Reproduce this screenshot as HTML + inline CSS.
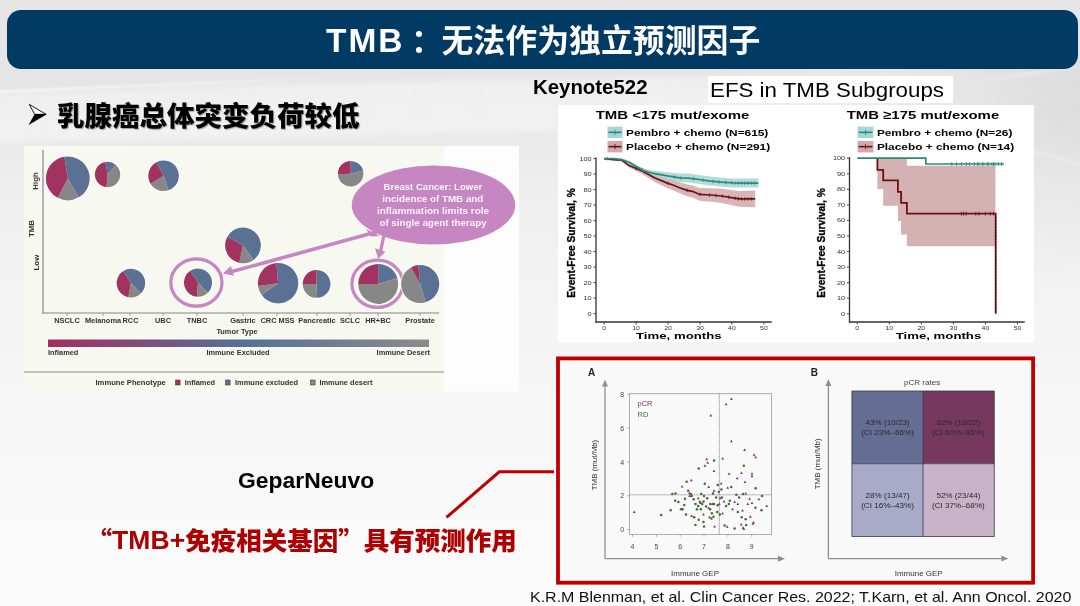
<!DOCTYPE html>
<html><head><meta charset="utf-8"><style>
*{margin:0;padding:0;box-sizing:border-box}
html,body{width:1080px;height:606px;overflow:hidden}
body{position:relative;font-family:"Liberation Sans","Noto Sans CJK SC",sans-serif;
background:linear-gradient(180deg,#e6e6e6 0px,#e5e5e5 80px,#e9e9e9 130px,#eeeeee 190px,#f2f2f2 270px,#f5f5f5 370px,#f8f8f8 470px,#fbfbfb 606px)}
.abs{position:absolute;white-space:nowrap}
#hdr{left:7px;top:10px;width:1071px;height:59px;border-radius:14px;background:#013a63}
#title{left:326px;top:11px;height:59px;line-height:59px;color:#fff;font-weight:bold;font-size:31.9px;font-family:"Liberation Sans","Noto Sans CJK SC",sans-serif}
#bullet{left:57px;top:93.5px;font-size:27.5px;font-weight:900;color:#000;font-family:"Liberation Sans","Noto Sans CJK SC",sans-serif;text-shadow:1px 1px 1px rgba(0,0,0,.35)}
#kn{left:533px;top:75.5px;font-size:20.4px;font-weight:bold;color:#000}
#efs{left:708px;top:76px;width:245px;height:26.5px;background:#fff}
#efst{left:710px;top:79.3px;font-size:20.3px;color:#000;transform:scaleX(1.1);transform-origin:0 0}
#gep{left:237.5px;top:468.3px;font-size:21.6px;transform:scaleX(1.06);transform-origin:0 0;font-weight:bold;color:#000}
#red{left:86.5px;top:519.8px;font-size:25.5px;font-weight:900;color:#ae0000;font-family:"Liberation Sans","Noto Sans CJK SC",sans-serif}
#cite{left:529.5px;top:589.2px;font-size:14.4px;color:#111;transform:scaleX(1.11);transform-origin:0 0}
.cq{font-family:"Noto Sans CJK SC",sans-serif}
svg text{font-family:"Liberation Sans",sans-serif}
</style></head><body>

<svg class="abs" style="left:0;top:0" width="1080" height="606" viewBox="0 0 1080 606">
<defs><filter id="bl" x="-10%" y="-60%" width="120%" height="220%"><feGaussianBlur stdDeviation="3"/></filter><filter id="bl2" x="-10%" y="-200%" width="120%" height="500%"><feGaussianBlur stdDeviation="0.9"/></filter><linearGradient id="hl" x1="0" x2="1" y1="0" y2="0"><stop offset="0" stop-color="#fff" stop-opacity="0.9"/><stop offset="0.6" stop-color="#fff" stop-opacity="0.5"/><stop offset="1" stop-color="#fff" stop-opacity="0"/></linearGradient><linearGradient id="hl2" x1="0" x2="1" y1="0" y2="0"><stop offset="0" stop-color="#fff" stop-opacity="0"/><stop offset="0.5" stop-color="#fff" stop-opacity="0.6"/><stop offset="1" stop-color="#fff" stop-opacity="0.3"/></linearGradient></defs>
<defs><linearGradient id="lens" x1="0" x2="1" y1="0" y2="0"><stop offset="0" stop-color="#fff" stop-opacity="0.35"/><stop offset="0.6" stop-color="#fff" stop-opacity="0.4"/><stop offset="0.85" stop-color="#fff" stop-opacity="0.15"/><stop offset="1" stop-color="#fff" stop-opacity="0"/></linearGradient></defs>
<path d="M-40,96 C200,86 400,81 560,79 C760,77 900,73 1120,66 L1120,100 C900,112 760,126 540,131 C350,136 150,140 -40,142 Z" fill="url(#lens)" filter="url(#bl)"/>
<path d="M-5,92 C80,88 200,82 360,76" fill="none" stroke="url(#hl)" stroke-width="1.6" filter="url(#bl2)"/>
<path d="M960,84 C1000,78 1040,72 1085,66" fill="none" stroke="url(#hl2)" stroke-width="3" filter="url(#bl2)" opacity="0.6"/>
<path d="M1030,150 C1045,154 1062,159 1085,166" fill="none" stroke="#fff" stroke-width="1.5" filter="url(#bl2)" opacity="0.6"/>
<defs><radialGradient id="rg" cx="1080" cy="110" r="190" gradientUnits="userSpaceOnUse"><stop offset="0" stop-color="#000" stop-opacity="0.045"/><stop offset="1" stop-color="#000" stop-opacity="0"/></radialGradient></defs>
<rect x="880" y="60" width="200" height="260" fill="url(#rg)"/>
<path d="M29.3,104.4 L46,114.3 L34.9,114.6 Z" fill="#fff" stroke="#000" stroke-width="0.9" stroke-linejoin="miter"/><path d="M34.9,114.3 L46.2,114.3 L29.3,124.3 Z" fill="#000" stroke="#000" stroke-width="0.6"/>
<rect x="24" y="146" width="420" height="245.5" fill="#f7f8f0"/>
<rect x="444" y="146" width="75" height="245.5" fill="#fdfdfd"/>
<line x1="43" y1="150" x2="43" y2="313.5" stroke="#888" stroke-width="1.2"/>
<line x1="42.4" y1="313" x2="439" y2="313" stroke="#888" stroke-width="1.2"/>
<line x1="67" y1="313" x2="67" y2="316" stroke="#888" stroke-width="0.8"/>
<line x1="103" y1="313" x2="103" y2="316" stroke="#888" stroke-width="0.8"/>
<line x1="130" y1="313" x2="130" y2="316" stroke="#888" stroke-width="0.8"/>
<line x1="163" y1="313" x2="163" y2="316" stroke="#888" stroke-width="0.8"/>
<line x1="197" y1="313" x2="197" y2="316" stroke="#888" stroke-width="0.8"/>
<line x1="243" y1="313" x2="243" y2="316" stroke="#888" stroke-width="0.8"/>
<line x1="277" y1="313" x2="277" y2="316" stroke="#888" stroke-width="0.8"/>
<line x1="317" y1="313" x2="317" y2="316" stroke="#888" stroke-width="0.8"/>
<line x1="350" y1="313" x2="350" y2="316" stroke="#888" stroke-width="0.8"/>
<line x1="378" y1="313" x2="378" y2="316" stroke="#888" stroke-width="0.8"/>
<line x1="420" y1="313" x2="420" y2="316" stroke="#888" stroke-width="0.8"/>
<text transform="translate(38.4,181) rotate(-90)" font-size="7.8" font-weight="bold" fill="#333" text-anchor="middle">High</text>
<text transform="translate(34,228.5) rotate(-90)" font-size="7.8" font-weight="bold" fill="#333" text-anchor="middle">TMB</text>
<text transform="translate(38.9,262.6) rotate(-90)" font-size="7.8" font-weight="bold" fill="#333" text-anchor="middle">Low</text>
<text x="67" y="323.3" font-size="7.4" font-weight="bold" fill="#333" text-anchor="middle">NSCLC</text>
<text x="103" y="323.3" font-size="7.4" font-weight="bold" fill="#333" text-anchor="middle">Melanoma</text>
<text x="130.5" y="323.3" font-size="7.4" font-weight="bold" fill="#333" text-anchor="middle">RCC</text>
<text x="163" y="323.3" font-size="7.4" font-weight="bold" fill="#333" text-anchor="middle">UBC</text>
<text x="197" y="323.3" font-size="7.4" font-weight="bold" fill="#333" text-anchor="middle">TNBC</text>
<text x="243" y="323.3" font-size="7.4" font-weight="bold" fill="#333" text-anchor="middle">Gastric</text>
<text x="277.5" y="323.3" font-size="7.4" font-weight="bold" fill="#333" text-anchor="middle">CRC MSS</text>
<text x="317" y="323.3" font-size="7.4" font-weight="bold" fill="#333" text-anchor="middle">Pancreatic</text>
<text x="350" y="323.3" font-size="7.4" font-weight="bold" fill="#333" text-anchor="middle">SCLC</text>
<text x="378" y="323.3" font-size="7.4" font-weight="bold" fill="#333" text-anchor="middle">HR+BC</text>
<text x="420" y="323.3" font-size="7.4" font-weight="bold" fill="#333" text-anchor="middle">Prostate</text>
<text x="237" y="334.2" font-size="7.4" font-weight="bold" fill="#333" text-anchor="middle">Tumor Type</text>
<defs><linearGradient id="gb" x1="0" x2="1" y1="0" y2="0"><stop offset="0" stop-color="#a52d5e"/><stop offset="0.5" stop-color="#566f97"/><stop offset="1" stop-color="#8b8b8b"/></linearGradient></defs>
<rect x="48" y="339.5" width="381" height="7.5" fill="url(#gb)"/>
<text x="48" y="355" font-size="7.4" font-weight="bold" fill="#333">Inflamed</text>
<text x="238" y="355" font-size="7.4" font-weight="bold" fill="#333" text-anchor="middle">Immune Excluded</text>
<text x="430" y="355" font-size="7.4" font-weight="bold" fill="#333" text-anchor="end">Immune Desert</text>
<line x1="24" y1="372" x2="444" y2="372" stroke="#8a8a8a" stroke-width="1"/>
<text x="95.5" y="385.2" font-size="7.4" font-weight="bold" fill="#333" textLength="70.3" lengthAdjust="spacingAndGlyphs">Immune Phenotype</text>
<rect x="175.5" y="380" width="4.6" height="5" fill="#a2325f" stroke="#333" stroke-width="0.5"/>
<text x="184.7" y="385.2" font-size="7.4" font-weight="bold" fill="#333" textLength="30.3" lengthAdjust="spacingAndGlyphs">Inflamed</text>
<rect x="225.5" y="380" width="4.6" height="5" fill="#5b7193" stroke="#333" stroke-width="0.5"/>
<text x="235" y="385.2" font-size="7.4" font-weight="bold" fill="#333" textLength="63" lengthAdjust="spacingAndGlyphs">Immune excluded</text>
<rect x="310.5" y="380" width="4.6" height="5" fill="#878787" stroke="#333" stroke-width="0.5"/>
<text x="319.4" y="385.2" font-size="7.4" font-weight="bold" fill="#333" textLength="53.1" lengthAdjust="spacingAndGlyphs">Immune desert</text>
<circle cx="67.8" cy="178.3" r="22.9" fill="#fff" opacity="0.75"/><path d="M67.8,178.3L64.37,156.67A21.9,21.9 0 0 1 78.75,197.27Z" fill="#5b7193"/><path d="M67.8,178.3L78.75,197.27A21.9,21.9 0 0 1 57.86,197.81Z" fill="#878787"/><path d="M67.8,178.3L57.86,197.81A21.9,21.9 0 0 1 64.37,156.67Z" fill="#a2325f"/>
<circle cx="107.6" cy="174.5" r="13.7" fill="#fff" opacity="0.75"/><path d="M107.6,174.5L105.39,161.99A12.7,12.7 0 0 1 115.93,164.92Z" fill="#5b7193"/><path d="M107.6,174.5L115.93,164.92A12.7,12.7 0 0 1 106.49,187.15Z" fill="#878787"/><path d="M107.6,174.5L106.49,187.15A12.7,12.7 0 0 1 105.39,161.99Z" fill="#a2325f"/>
<circle cx="163.6" cy="175.8" r="16.3" fill="#fff" opacity="0.75"/><path d="M163.6,175.8L156.32,162.34A15.3,15.3 0 1 1 168.48,190.30Z" fill="#5b7193"/><path d="M163.6,175.8L168.48,190.30A15.3,15.3 0 0 1 150.49,183.68Z" fill="#878787"/><path d="M163.6,175.8L150.49,183.68A15.3,15.3 0 0 1 156.32,162.34Z" fill="#a2325f"/>
<circle cx="243" cy="245.4" r="18.9" fill="#fff" opacity="0.75"/><path d="M243.0,245.4L227.31,236.78A17.9,17.9 0 1 1 253.52,259.88Z" fill="#5b7193"/><path d="M243.0,245.4L253.52,259.88A17.9,17.9 0 0 1 239.28,262.91Z" fill="#878787"/><path d="M243.0,245.4L239.28,262.91A17.9,17.9 0 0 1 227.31,236.78Z" fill="#a2325f"/>
<circle cx="130.9" cy="283.1" r="15.3" fill="#fff" opacity="0.75"/><path d="M130.9,283.1L123.26,271.01A14.3,14.3 0 0 1 140.83,293.39Z" fill="#5b7193"/><path d="M130.9,283.1L140.83,293.39A14.3,14.3 0 0 1 128.32,297.17Z" fill="#878787"/><path d="M130.9,283.1L128.32,297.17A14.3,14.3 0 0 1 123.26,271.01Z" fill="#a2325f"/>
<circle cx="198" cy="282.6" r="15.1" fill="#fff" opacity="0.75"/><path d="M198.0,282.6L190.26,270.82A14.1,14.1 0 0 1 207.79,292.74Z" fill="#5b7193"/><path d="M198.0,282.6L207.79,292.74A14.1,14.1 0 0 1 196.89,296.66Z" fill="#878787"/><path d="M198.0,282.6L196.89,296.66A14.1,14.1 0 0 1 190.26,270.82Z" fill="#a2325f"/>
<circle cx="350.7" cy="173.7" r="13.8" fill="#fff" opacity="0.75"/><path d="M350.7,173.7L350.70,160.90A12.8,12.8 0 0 1 363.10,170.54Z" fill="#5b7193"/><path d="M350.7,173.7L363.10,170.54A12.8,12.8 0 1 1 337.91,174.24Z" fill="#878787"/><path d="M350.7,173.7L337.91,174.24A12.8,12.8 0 0 1 350.70,160.90Z" fill="#a2325f"/>
<circle cx="278.1" cy="283.2" r="21.2" fill="#fff" opacity="0.75"/><path d="M278.1,283.2L276.48,263.07A20.2,20.2 0 1 1 261.59,294.84Z" fill="#5b7193"/><path d="M278.1,283.2L261.59,294.84A20.2,20.2 0 0 1 258.08,285.91Z" fill="#878787"/><path d="M278.1,283.2L258.08,285.91A20.2,20.2 0 0 1 276.48,263.07Z" fill="#a2325f"/>
<circle cx="316.6" cy="283.9" r="14.9" fill="#fff" opacity="0.75"/><path d="M316.6,283.9L316.60,270.00A13.9,13.9 0 0 1 317.09,297.79Z" fill="#5b7193"/><path d="M316.6,283.9L317.09,297.79A13.9,13.9 0 0 1 302.70,283.90Z" fill="#878787"/><path d="M316.6,283.9L302.70,283.90A13.9,13.9 0 0 1 316.60,270.00Z" fill="#a2325f"/>
<circle cx="378.2" cy="283.9" r="21" fill="#fff" opacity="0.75"/><path d="M378.2,283.9L378.20,263.90A20,20 0 0 1 397.30,277.95Z" fill="#5b7193"/><path d="M378.2,283.9L397.30,277.95A20,20 0 1 1 358.20,283.90Z" fill="#878787"/><path d="M378.2,283.9L358.20,283.90A20,20 0 0 1 378.20,263.90Z" fill="#a2325f"/>
<ellipse cx="196.4" cy="282.5" rx="25.6" ry="23.7" fill="none" stroke="#c686c2" stroke-width="3.2"/>
<ellipse cx="377.4" cy="283.8" rx="25.5" ry="23.6" fill="none" stroke="#c686c2" stroke-width="3.2"/>
<circle cx="420.2" cy="284" r="20" fill="#fff" opacity="0.75"/><path d="M420.2,284.0L418.21,265.10A19,19 0 0 1 425.66,302.20Z" fill="#5b7193"/><path d="M420.2,284.0L425.66,302.20A19,19 0 0 1 410.99,267.38Z" fill="#878787"/><path d="M420.2,284.0L410.99,267.38A19,19 0 0 1 418.21,265.10Z" fill="#a2325f"/>
<path d="M378,231.5 L232,271.6" stroke="#c686c2" stroke-width="3.6"/><path d="M366,229 L380,236 L371,236.5 Z" fill="#c686c2"/>
<path d="M222.9,273.4 L230.8,266 L234,275.8 Z" fill="#c686c2"/>
<line x1="383.8" y1="236" x2="380.6" y2="251" stroke="#c686c2" stroke-width="3.3"/>
<path d="M378.2,258.8 L375,248.3 L385.5,251.8 Z" fill="#c686c2"/>
<ellipse cx="433.5" cy="205" rx="81.8" ry="39.5" fill="#c686c2"/>
<text x="383.6" y="189.7" font-size="9.3" font-weight="bold" fill="#fbf3fa" textLength="98.6" lengthAdjust="spacingAndGlyphs">Breast Cancer: Lower</text>
<text x="382.2" y="201.9" font-size="9.3" font-weight="bold" fill="#fbf3fa" textLength="101.1" lengthAdjust="spacingAndGlyphs">incidence of TMB and</text>
<text x="376.9" y="214.2" font-size="9.3" font-weight="bold" fill="#fbf3fa" textLength="112.3" lengthAdjust="spacingAndGlyphs">inflammation limits role</text>
<text x="379.4" y="226.3" font-size="9.3" font-weight="bold" fill="#fbf3fa" textLength="107.3" lengthAdjust="spacingAndGlyphs">of single agent therapy</text>
<rect x="558" y="105" width="476" height="237" fill="#ffffff"/>
<line x1="596" y1="157.60000000000002" x2="596" y2="322.6" stroke="#333" stroke-width="1.3"/>
<line x1="595.4" y1="322" x2="771.7" y2="322" stroke="#333" stroke-width="1.3"/>
<line x1="593.5" y1="313.6" x2="596" y2="313.6" stroke="#333" stroke-width="0.9"/>
<text x="591.7" y="315.6" font-size="5.7" font-weight="normal" fill="#333" text-anchor="end" textLength="4.1" lengthAdjust="spacingAndGlyphs">0</text>
<line x1="593.5" y1="298.1" x2="596" y2="298.1" stroke="#333" stroke-width="0.9"/>
<text x="591.7" y="300.1" font-size="5.7" font-weight="normal" fill="#333" text-anchor="end" textLength="8.2" lengthAdjust="spacingAndGlyphs">10</text>
<line x1="593.5" y1="282.6" x2="596" y2="282.6" stroke="#333" stroke-width="0.9"/>
<text x="591.7" y="284.6" font-size="5.7" font-weight="normal" fill="#333" text-anchor="end" textLength="8.2" lengthAdjust="spacingAndGlyphs">20</text>
<line x1="593.5" y1="267.1" x2="596" y2="267.1" stroke="#333" stroke-width="0.9"/>
<text x="591.7" y="269.1" font-size="5.7" font-weight="normal" fill="#333" text-anchor="end" textLength="8.2" lengthAdjust="spacingAndGlyphs">30</text>
<line x1="593.5" y1="251.6" x2="596" y2="251.6" stroke="#333" stroke-width="0.9"/>
<text x="591.7" y="253.6" font-size="5.7" font-weight="normal" fill="#333" text-anchor="end" textLength="8.2" lengthAdjust="spacingAndGlyphs">40</text>
<line x1="593.5" y1="236.1" x2="596" y2="236.1" stroke="#333" stroke-width="0.9"/>
<text x="591.7" y="238.1" font-size="5.7" font-weight="normal" fill="#333" text-anchor="end" textLength="8.2" lengthAdjust="spacingAndGlyphs">50</text>
<line x1="593.5" y1="220.6" x2="596" y2="220.6" stroke="#333" stroke-width="0.9"/>
<text x="591.7" y="222.6" font-size="5.7" font-weight="normal" fill="#333" text-anchor="end" textLength="8.2" lengthAdjust="spacingAndGlyphs">60</text>
<line x1="593.5" y1="205.1" x2="596" y2="205.1" stroke="#333" stroke-width="0.9"/>
<text x="591.7" y="207.1" font-size="5.7" font-weight="normal" fill="#333" text-anchor="end" textLength="8.2" lengthAdjust="spacingAndGlyphs">70</text>
<line x1="593.5" y1="189.6" x2="596" y2="189.6" stroke="#333" stroke-width="0.9"/>
<text x="591.7" y="191.6" font-size="5.7" font-weight="normal" fill="#333" text-anchor="end" textLength="8.2" lengthAdjust="spacingAndGlyphs">80</text>
<line x1="593.5" y1="174.1" x2="596" y2="174.1" stroke="#333" stroke-width="0.9"/>
<text x="591.7" y="176.1" font-size="5.7" font-weight="normal" fill="#333" text-anchor="end" textLength="8.2" lengthAdjust="spacingAndGlyphs">90</text>
<line x1="593.5" y1="158.6" x2="596" y2="158.6" stroke="#333" stroke-width="0.9"/>
<text x="591.7" y="160.6" font-size="5.7" font-weight="normal" fill="#333" text-anchor="end" textLength="12.2" lengthAdjust="spacingAndGlyphs">100</text>
<line x1="604.2" y1="322" x2="604.2" y2="324.5" stroke="#333" stroke-width="0.9"/>
<text x="604.2" y="329.7" font-size="5.7" font-weight="normal" fill="#333" text-anchor="middle" textLength="3.8" lengthAdjust="spacingAndGlyphs">0</text>
<line x1="636.1" y1="322" x2="636.1" y2="324.5" stroke="#333" stroke-width="0.9"/>
<text x="636.1" y="329.7" font-size="5.7" font-weight="normal" fill="#333" text-anchor="middle" textLength="7.6" lengthAdjust="spacingAndGlyphs">10</text>
<line x1="668.1" y1="322" x2="668.1" y2="324.5" stroke="#333" stroke-width="0.9"/>
<text x="668.1" y="329.7" font-size="5.7" font-weight="normal" fill="#333" text-anchor="middle" textLength="7.6" lengthAdjust="spacingAndGlyphs">20</text>
<line x1="700.0" y1="322" x2="700.0" y2="324.5" stroke="#333" stroke-width="0.9"/>
<text x="700.0" y="329.7" font-size="5.7" font-weight="normal" fill="#333" text-anchor="middle" textLength="7.6" lengthAdjust="spacingAndGlyphs">30</text>
<line x1="731.9" y1="322" x2="731.9" y2="324.5" stroke="#333" stroke-width="0.9"/>
<text x="731.9" y="329.7" font-size="5.7" font-weight="normal" fill="#333" text-anchor="middle" textLength="7.6" lengthAdjust="spacingAndGlyphs">40</text>
<line x1="763.9" y1="322" x2="763.9" y2="324.5" stroke="#333" stroke-width="0.9"/>
<text x="763.9" y="329.7" font-size="5.7" font-weight="normal" fill="#333" text-anchor="middle" textLength="7.6" lengthAdjust="spacingAndGlyphs">50</text>
<text x="678.8" y="339" font-size="9.2" font-weight="bold" fill="#000" text-anchor="middle" textLength="85.5" lengthAdjust="spacingAndGlyphs">Time, months</text>
<text stroke="#000" stroke-width="0.35" transform="translate(574.8,243) rotate(-90)" font-size="11" font-weight="bold" fill="#000" text-anchor="middle" textLength="109.5" lengthAdjust="spacingAndGlyphs">Event-Free Survival, %</text>
<text x="595.7" y="118.6" font-size="11.8" font-weight="bold" fill="#000" text-anchor="start" textLength="153.69999999999993" lengthAdjust="spacingAndGlyphs">TMB &lt;175 mut/exome</text>
<rect x="607.5" y="126.6" width="15.0" height="11.5" fill="#a6d6d2"/>
<line x1="608.5" y1="132.35" x2="621.5" y2="132.35" stroke="#2b8a7b" stroke-width="1.6"/>
<line x1="615.0" y1="129.85" x2="615.0" y2="134.85" stroke="#2b8a7b" stroke-width="0.9"/>
<text x="626.0" y="136.1" font-size="8.6" font-weight="bold" fill="#000" text-anchor="start" textLength="142.29999999999995" lengthAdjust="spacingAndGlyphs">Pembro + chemo (N=615)</text>
<rect x="607.5" y="140.9" width="15.0" height="11.5" fill="#cfa9ab"/>
<line x1="608.5" y1="146.65" x2="621.5" y2="146.65" stroke="#6e1013" stroke-width="1.6"/>
<line x1="615.0" y1="144.15" x2="615.0" y2="149.15" stroke="#6e1013" stroke-width="0.9"/>
<text x="626.0" y="150.4" font-size="8.6" font-weight="bold" fill="#000" text-anchor="start" textLength="144.20000000000005" lengthAdjust="spacingAndGlyphs">Placebo + chemo (N=291)</text>
<path d="M604.2,158.6 L610.6,158.8 L617.0,158.7 L621.8,158.6 L629.1,163.5 L641.6,167.7 L648.6,170.8 L655.0,174.1 L662.6,176.4 L666.1,177.7 L672.8,179.7 L679.6,182.2 L686.3,184.3 L693.3,185.5 L699.4,188.1 L710.5,188.3 L721.7,188.8 L732.9,190.2 L739.6,191.1 L755.2,190.5 L755.2,207.3 L739.6,206.7 L732.9,205.4 L721.7,203.1 L710.5,201.7 L699.4,200.7 L693.3,197.7 L686.3,195.9 L679.6,193.3 L672.8,190.2 L666.1,187.6 L662.6,185.7 L655.0,182.2 L648.6,178.0 L641.6,173.7 L629.1,167.6 L621.8,161.5 L617.0,161.0 L610.6,160.0 L604.2,158.6Z" fill="#cfa9ab" opacity="0.85"/>
<path d="M604.2,158.6 L613.8,158.6 L621.8,158.6 L629.7,161.1 L636.1,164.6 L643.8,168.5 L652.1,170.5 L666.1,172.1 L679.6,173.5 L688.5,173.6 L699.4,175.0 L710.5,176.6 L721.7,177.7 L732.9,178.4 L744.7,178.6 L758.4,178.6 L758.4,187.6 L744.7,187.6 L732.9,187.4 L721.7,186.7 L710.5,185.6 L699.4,184.0 L688.5,182.6 L679.6,182.1 L666.1,179.2 L652.1,175.9 L643.8,172.9 L636.1,168.1 L629.7,163.9 L621.8,160.5 L613.8,159.1 L604.2,158.6Z" fill="#a6d6d2" opacity="0.85"/>
<path d="M604.2,158.6 L610.6,159.4 L617.0,159.8 L621.8,160.0 L629.1,165.6 L641.6,170.7 L648.6,174.4 L655.0,178.1 L662.6,181.1 L666.1,182.6 L672.8,185.0 L679.6,187.7 L686.3,190.1 L693.3,191.6 L699.4,194.4 L710.5,195.0 L721.7,196.0 L732.9,197.8 L739.6,198.9 L755.2,198.9" fill="none" stroke="#6e1013" stroke-width="1.7"/>
<path d="M604.2,158.6 L613.8,158.6 L621.8,159.5 L629.7,162.5 L636.1,166.4 L643.8,170.7 L652.1,173.2 L666.1,175.7 L679.6,177.8 L688.5,178.1 L699.4,179.5 L710.5,181.1 L721.7,182.2 L732.9,182.9 L744.7,183.1 L758.4,183.1" fill="none" stroke="#2b8a7b" stroke-width="1.7"/>
<path d="M607.4,156.8V160.4M642.5,168.2V171.8M674.4,175.2V178.8M680.8,176.1V179.7M693.6,177.0V180.6M703.2,178.3V181.9M712.8,179.5V183.1M719.1,180.1V183.7M725.5,180.6V184.2M731.9,181.1V184.7M735.1,181.2V184.8M738.3,181.2V184.8M741.5,181.2V184.8M744.7,181.3V184.9M747.9,181.3V184.9M751.1,181.3V184.9M754.3,181.3V184.9" stroke="#2b8a7b" stroke-width="0.8" fill="none"/>
<path d="M636.1,166.7V170.3M668.1,181.5V185.1M687.2,188.5V192.1M700.0,192.6V196.2M709.6,193.2V196.8M716.0,193.7V197.3M722.3,194.3V197.9M728.7,195.3V198.9M735.1,196.4V200.0M738.3,196.9V200.5M741.5,197.1V200.7M744.7,197.1V200.7M747.9,197.1V200.7M751.1,197.1V200.7" stroke="#6e1013" stroke-width="0.8" fill="none"/>
<line x1="849.5" y1="157.20000000000002" x2="849.5" y2="322.6" stroke="#333" stroke-width="1.3"/>
<line x1="848.9" y1="322" x2="1024.7" y2="322" stroke="#333" stroke-width="1.3"/>
<line x1="847.0" y1="313.8" x2="849.5" y2="313.8" stroke="#333" stroke-width="0.9"/>
<text x="845.2" y="315.8" font-size="5.7" font-weight="normal" fill="#333" text-anchor="end" textLength="4.1" lengthAdjust="spacingAndGlyphs">0</text>
<line x1="847.0" y1="298.2" x2="849.5" y2="298.2" stroke="#333" stroke-width="0.9"/>
<text x="845.2" y="300.2" font-size="5.7" font-weight="normal" fill="#333" text-anchor="end" textLength="8.2" lengthAdjust="spacingAndGlyphs">10</text>
<line x1="847.0" y1="282.7" x2="849.5" y2="282.7" stroke="#333" stroke-width="0.9"/>
<text x="845.2" y="284.7" font-size="5.7" font-weight="normal" fill="#333" text-anchor="end" textLength="8.2" lengthAdjust="spacingAndGlyphs">20</text>
<line x1="847.0" y1="267.1" x2="849.5" y2="267.1" stroke="#333" stroke-width="0.9"/>
<text x="845.2" y="269.1" font-size="5.7" font-weight="normal" fill="#333" text-anchor="end" textLength="8.2" lengthAdjust="spacingAndGlyphs">30</text>
<line x1="847.0" y1="251.6" x2="849.5" y2="251.6" stroke="#333" stroke-width="0.9"/>
<text x="845.2" y="253.6" font-size="5.7" font-weight="normal" fill="#333" text-anchor="end" textLength="8.2" lengthAdjust="spacingAndGlyphs">40</text>
<line x1="847.0" y1="236.0" x2="849.5" y2="236.0" stroke="#333" stroke-width="0.9"/>
<text x="845.2" y="238.0" font-size="5.7" font-weight="normal" fill="#333" text-anchor="end" textLength="8.2" lengthAdjust="spacingAndGlyphs">50</text>
<line x1="847.0" y1="220.4" x2="849.5" y2="220.4" stroke="#333" stroke-width="0.9"/>
<text x="845.2" y="222.4" font-size="5.7" font-weight="normal" fill="#333" text-anchor="end" textLength="8.2" lengthAdjust="spacingAndGlyphs">60</text>
<line x1="847.0" y1="204.9" x2="849.5" y2="204.9" stroke="#333" stroke-width="0.9"/>
<text x="845.2" y="206.9" font-size="5.7" font-weight="normal" fill="#333" text-anchor="end" textLength="8.2" lengthAdjust="spacingAndGlyphs">70</text>
<line x1="847.0" y1="189.3" x2="849.5" y2="189.3" stroke="#333" stroke-width="0.9"/>
<text x="845.2" y="191.3" font-size="5.7" font-weight="normal" fill="#333" text-anchor="end" textLength="8.2" lengthAdjust="spacingAndGlyphs">80</text>
<line x1="847.0" y1="173.8" x2="849.5" y2="173.8" stroke="#333" stroke-width="0.9"/>
<text x="845.2" y="175.8" font-size="5.7" font-weight="normal" fill="#333" text-anchor="end" textLength="8.2" lengthAdjust="spacingAndGlyphs">90</text>
<line x1="847.0" y1="158.2" x2="849.5" y2="158.2" stroke="#333" stroke-width="0.9"/>
<text x="845.2" y="160.2" font-size="5.7" font-weight="normal" fill="#333" text-anchor="end" textLength="12.2" lengthAdjust="spacingAndGlyphs">100</text>
<line x1="857.2" y1="322" x2="857.2" y2="324.5" stroke="#333" stroke-width="0.9"/>
<text x="857.2" y="329.7" font-size="5.7" font-weight="normal" fill="#333" text-anchor="middle" textLength="3.8" lengthAdjust="spacingAndGlyphs">0</text>
<line x1="889.3" y1="322" x2="889.3" y2="324.5" stroke="#333" stroke-width="0.9"/>
<text x="889.3" y="329.7" font-size="5.7" font-weight="normal" fill="#333" text-anchor="middle" textLength="7.6" lengthAdjust="spacingAndGlyphs">10</text>
<line x1="921.3" y1="322" x2="921.3" y2="324.5" stroke="#333" stroke-width="0.9"/>
<text x="921.3" y="329.7" font-size="5.7" font-weight="normal" fill="#333" text-anchor="middle" textLength="7.6" lengthAdjust="spacingAndGlyphs">20</text>
<line x1="953.4" y1="322" x2="953.4" y2="324.5" stroke="#333" stroke-width="0.9"/>
<text x="953.4" y="329.7" font-size="5.7" font-weight="normal" fill="#333" text-anchor="middle" textLength="7.6" lengthAdjust="spacingAndGlyphs">30</text>
<line x1="985.4" y1="322" x2="985.4" y2="324.5" stroke="#333" stroke-width="0.9"/>
<text x="985.4" y="329.7" font-size="5.7" font-weight="normal" fill="#333" text-anchor="middle" textLength="7.6" lengthAdjust="spacingAndGlyphs">40</text>
<line x1="1017.5" y1="322" x2="1017.5" y2="324.5" stroke="#333" stroke-width="0.9"/>
<text x="1017.5" y="329.7" font-size="5.7" font-weight="normal" fill="#333" text-anchor="middle" textLength="7.6" lengthAdjust="spacingAndGlyphs">50</text>
<text x="938.5" y="339" font-size="9.2" font-weight="bold" fill="#000" text-anchor="middle" textLength="85.5" lengthAdjust="spacingAndGlyphs">Time, months</text>
<text stroke="#000" stroke-width="0.35" transform="translate(824.8,243) rotate(-90)" font-size="11" font-weight="bold" fill="#000" text-anchor="middle" textLength="109.5" lengthAdjust="spacingAndGlyphs">Event-Free Survival, %</text>
<text x="846.7" y="118.6" font-size="11.8" font-weight="bold" fill="#000" text-anchor="start" textLength="152.5" lengthAdjust="spacingAndGlyphs">TMB ≥175 mut/exome</text>
<rect x="857.6" y="126.6" width="15.799999999999955" height="11.5" fill="#a6d6d2"/>
<line x1="858.6" y1="132.35" x2="872.4" y2="132.35" stroke="#2b8a7b" stroke-width="1.6"/>
<line x1="865.5" y1="129.85" x2="865.5" y2="134.85" stroke="#2b8a7b" stroke-width="0.9"/>
<text x="876.9" y="136.1" font-size="8.6" font-weight="bold" fill="#000" text-anchor="start" textLength="135.5" lengthAdjust="spacingAndGlyphs">Pembro + chemo (N=26)</text>
<rect x="857.6" y="140.9" width="15.799999999999955" height="11.5" fill="#cfa9ab"/>
<line x1="858.6" y1="146.65" x2="872.4" y2="146.65" stroke="#6e1013" stroke-width="1.6"/>
<line x1="865.5" y1="144.15" x2="865.5" y2="149.15" stroke="#6e1013" stroke-width="0.9"/>
<text x="876.9" y="150.4" font-size="8.6" font-weight="bold" fill="#000" text-anchor="start" textLength="137.30000000000007" lengthAdjust="spacingAndGlyphs">Placebo + chemo (N=14)</text>
<path d="M877.4,158.2 L906.9,158.2 L906.9,165.7 L995.4,165.7 L995.4,246.3 L906.9,246.3 L906.9,234.4 L901.1,234.4 L901.1,221.1 L897.9,221.1 L897.9,205.8 L883.2,205.8 L883.2,188.9 L877.4,188.9 Z" fill="#cfa9ab" opacity="0.9"/>
<path d="M877.4,158.2 V169.9 H883.2 V180.3 H897.9 V191.8 H901.1 V202.9 H906.9 V213.6 H995.7 V313.8" fill="none" stroke="#6e1013" stroke-width="1.8"/>
<line x1="995.7" y1="217.3" x2="995.7" y2="313.0" stroke="#1a0a0a" stroke-width="1" stroke-dasharray="1.6,1.4"/>
<path d="M961.4,211.6V215.6M963.6,211.6V215.6M966.2,211.6V215.6M975.8,211.6V215.6M979.0,211.6V215.6M985.4,211.6V215.6M990.2,211.6V215.6M993.5,211.6V215.6" stroke="#6e1013" stroke-width="0.8" fill="none"/>
<path d="M857.2,158.2 H925.8 V164.0 H1004.0" fill="none" stroke="#2b8a7b" stroke-width="1.7"/>
<path d="M951.8,162.0V166.0M956.6,162.0V166.0M961.4,162.0V166.0M966.2,162.0V166.0M969.4,162.0V166.0M974.2,162.0V166.0M977.4,162.0V166.0M979.0,162.0V166.0M982.2,162.0V166.0M983.8,162.0V166.0M987.0,162.0V166.0M988.6,162.0V166.0M991.9,162.0V166.0M993.5,162.0V166.0M995.1,162.0V166.0M998.3,162.0V166.0M1001.5,162.0V166.0" stroke="#2b8a7b" stroke-width="0.8" fill="none"/>
<rect x="558" y="358.4" width="475.1" height="224.3" fill="#f9f9f9" stroke="#c00000" stroke-width="3.8"/>
<path d="M446.5,517.4 L499.3,471.8 H554" fill="none" stroke="#c00000" stroke-width="3"/>
<text x="587.9" y="376.3" font-size="10" font-weight="bold" fill="#222" text-anchor="start">A</text>
<text x="810.8" y="375.5" font-size="10" font-weight="bold" fill="#222" text-anchor="start">B</text>
<line x1="605" y1="558.7" x2="605" y2="385.6" stroke="#8f8f8f" stroke-width="1.3"/>
<path d="M605,379.6 L602,386.6 L608,386.6 Z" fill="#8f8f8f"/>
<line x1="605" y1="558.7" x2="779" y2="558.7" stroke="#8f8f8f" stroke-width="1.3"/>
<path d="M785,558.7 L778,555.7 L778,561.7 Z" fill="#8f8f8f"/>
<line x1="828.4" y1="558.6" x2="828.4" y2="384.9" stroke="#8f8f8f" stroke-width="1.3"/>
<path d="M828.4,378.9 L825.4,385.9 L831.4,385.9 Z" fill="#8f8f8f"/>
<line x1="828.4" y1="558.6" x2="1002.4" y2="558.6" stroke="#8f8f8f" stroke-width="1.3"/>
<path d="M1008.4,558.6 L1001.4,555.6 L1001.4,561.6 Z" fill="#8f8f8f"/>
<rect x="629.6" y="393.7" width="141.9" height="140.7" fill="none" stroke="#9a9a9a" stroke-width="0.8"/>
<line x1="627.2" y1="529.6" x2="629.6" y2="529.6" stroke="#9a9a9a" stroke-width="0.8"/>
<text x="624.2" y="532.1" font-size="7" font-weight="normal" fill="#444" text-anchor="end">0</text>
<line x1="627.2" y1="495.8" x2="629.6" y2="495.8" stroke="#9a9a9a" stroke-width="0.8"/>
<text x="624.2" y="498.3" font-size="7" font-weight="normal" fill="#444" text-anchor="end">2</text>
<line x1="627.2" y1="462.0" x2="629.6" y2="462.0" stroke="#9a9a9a" stroke-width="0.8"/>
<text x="624.2" y="464.5" font-size="7" font-weight="normal" fill="#444" text-anchor="end">4</text>
<line x1="627.2" y1="428.2" x2="629.6" y2="428.2" stroke="#9a9a9a" stroke-width="0.8"/>
<text x="624.2" y="430.7" font-size="7" font-weight="normal" fill="#444" text-anchor="end">6</text>
<line x1="627.2" y1="394.4" x2="629.6" y2="394.4" stroke="#9a9a9a" stroke-width="0.8"/>
<text x="624.2" y="396.9" font-size="7" font-weight="normal" fill="#444" text-anchor="end">8</text>
<line x1="632.5" y1="534.4" x2="632.5" y2="536.8" stroke="#9a9a9a" stroke-width="0.8"/>
<text x="632.5" y="549" font-size="7" font-weight="normal" fill="#444" text-anchor="middle">4</text>
<line x1="656.4" y1="534.4" x2="656.4" y2="536.8" stroke="#9a9a9a" stroke-width="0.8"/>
<text x="656.4" y="549" font-size="7" font-weight="normal" fill="#444" text-anchor="middle">5</text>
<line x1="680.2" y1="534.4" x2="680.2" y2="536.8" stroke="#9a9a9a" stroke-width="0.8"/>
<text x="680.2" y="549" font-size="7" font-weight="normal" fill="#444" text-anchor="middle">6</text>
<line x1="704.0" y1="534.4" x2="704.0" y2="536.8" stroke="#9a9a9a" stroke-width="0.8"/>
<text x="704.0" y="549" font-size="7" font-weight="normal" fill="#444" text-anchor="middle">7</text>
<line x1="727.9" y1="534.4" x2="727.9" y2="536.8" stroke="#9a9a9a" stroke-width="0.8"/>
<text x="727.9" y="549" font-size="7" font-weight="normal" fill="#444" text-anchor="middle">8</text>
<line x1="751.8" y1="534.4" x2="751.8" y2="536.8" stroke="#9a9a9a" stroke-width="0.8"/>
<text x="751.8" y="549" font-size="7" font-weight="normal" fill="#444" text-anchor="middle">9</text>
<line x1="629.6" y1="494.8" x2="771.5" y2="494.8" stroke="#555" stroke-width="0.8" stroke-dasharray="1,1"/>
<line x1="719.3" y1="393.7" x2="719.3" y2="534.4" stroke="#555" stroke-width="0.8" stroke-dasharray="1,1"/>
<text x="637.5" y="405.8" font-size="7.5" font-weight="normal" fill="#8b2c75" text-anchor="start">pCR</text>
<text x="637.5" y="417.2" font-size="7.5" font-weight="normal" fill="#3f6e34" text-anchor="start">RD</text>
<text transform="translate(597.2,465) rotate(-90)" font-size="7.6" font-weight="normal" fill="#333" text-anchor="middle" textLength="50.5" lengthAdjust="spacingAndGlyphs">TMB (mut/Mb)</text>
<text x="695" y="576" font-size="7.8" font-weight="normal" fill="#333" text-anchor="middle" textLength="48" lengthAdjust="spacingAndGlyphs">Immune GEP</text>
<g fill="#3f6e34"><circle cx="661.2" cy="515.1" r="1.25"/><circle cx="670.7" cy="510.3" r="1.25"/><circle cx="675.2" cy="500.8" r="1.25"/><circle cx="678.4" cy="501.9" r="1.25"/><circle cx="672.3" cy="494.0" r="1.25"/><circle cx="675.5" cy="493.5" r="1.25"/><circle cx="686.6" cy="481.8" r="1.25"/><circle cx="698.7" cy="468.4" r="1.25"/><circle cx="714.0" cy="460.5" r="1.25"/><circle cx="704.8" cy="483.7" r="1.25"/><circle cx="717.7" cy="485.0" r="1.25"/><circle cx="731.2" cy="486.9" r="1.25"/><circle cx="743.8" cy="465.8" r="1.25"/><circle cx="755.7" cy="488.2" r="1.25"/><circle cx="762.0" cy="496.1" r="1.25"/><circle cx="761.5" cy="510.3" r="1.25"/><circle cx="755.4" cy="507.7" r="1.25"/><circle cx="685.0" cy="498.7" r="1.25"/><circle cx="684.2" cy="505.1" r="1.25"/><circle cx="681.0" cy="509.3" r="1.25"/><circle cx="690.8" cy="494.0" r="1.25"/><circle cx="688.2" cy="490.8" r="1.25"/><circle cx="693.7" cy="499.3" r="1.25"/><circle cx="695.5" cy="504.0" r="1.25"/><circle cx="698.2" cy="506.1" r="1.25"/><circle cx="700.3" cy="502.7" r="1.25"/><circle cx="702.1" cy="504.0" r="1.25"/><circle cx="703.5" cy="501.4" r="1.25"/><circle cx="701.3" cy="494.0" r="1.25"/><circle cx="700.8" cy="509.3" r="1.25"/><circle cx="706.1" cy="506.6" r="1.25"/><circle cx="710.1" cy="509.3" r="1.25"/><circle cx="711.9" cy="513.2" r="1.25"/><circle cx="711.4" cy="518.5" r="1.25"/><circle cx="713.5" cy="516.7" r="1.25"/><circle cx="717.2" cy="511.9" r="1.25"/><circle cx="719.8" cy="514.6" r="1.25"/><circle cx="717.7" cy="505.3" r="1.25"/><circle cx="716.1" cy="497.4" r="1.25"/><circle cx="718.8" cy="492.1" r="1.25"/><circle cx="713.0" cy="493.5" r="1.25"/><circle cx="707.2" cy="498.2" r="1.25"/><circle cx="696.9" cy="509.3" r="1.25"/><circle cx="694.2" cy="517.2" r="1.25"/><circle cx="698.7" cy="519.8" r="1.25"/><circle cx="695.5" cy="525.1" r="1.25"/><circle cx="703.5" cy="522.0" r="1.25"/><circle cx="704.0" cy="526.4" r="1.25"/><circle cx="724.6" cy="525.6" r="1.25"/><circle cx="721.4" cy="489.5" r="1.25"/><circle cx="729.8" cy="500.8" r="1.25"/><circle cx="736.4" cy="494.8" r="1.25"/><circle cx="739.1" cy="497.4" r="1.25"/><circle cx="743.0" cy="494.0" r="1.25"/><circle cx="741.7" cy="517.2" r="1.25"/><circle cx="745.7" cy="519.3" r="1.25"/><circle cx="746.2" cy="525.1" r="1.25"/><circle cx="734.6" cy="528.5" r="1.25"/><circle cx="737.8" cy="511.9" r="1.25"/><circle cx="728.8" cy="504.0" r="1.25"/><circle cx="726.1" cy="506.1" r="1.25"/><circle cx="710.3" cy="504.0" r="1.25"/><circle cx="714.0" cy="504.0" r="1.25"/><circle cx="691.8" cy="496.1" r="1.25"/><circle cx="686.0" cy="514.6" r="1.25"/><circle cx="682.6" cy="509.3" r="1.25"/><circle cx="704.0" cy="496.1" r="1.25"/><circle cx="721.9" cy="497.4" r="1.25"/></g>
<g fill="#8b2c75"><path d="M634.3,510.4L635.7,512.9L632.9,512.9Z"/><path d="M710.8,414.1L712.2,416.6L709.4,416.6Z"/><path d="M726.1,402.8L727.5,405.3L724.7,405.3Z"/><path d="M731.4,397.5L732.8,400.0L730.0,400.0Z"/><path d="M731.4,439.7L732.8,442.2L730.0,442.2Z"/><path d="M744.6,448.4L746.0,450.9L743.2,450.9Z"/><path d="M754.1,453.2L755.5,455.7L752.7,455.7Z"/><path d="M755.7,455.8L757.1,458.3L754.3,458.3Z"/><path d="M706.6,457.7L708.0,460.2L705.2,460.2Z"/><path d="M707.7,461.3L709.1,463.8L706.3,463.8Z"/><path d="M705.0,464.3L706.4,466.8L703.6,466.8Z"/><path d="M714.0,469.5L715.4,472.0L712.6,472.0Z"/><path d="M722.7,456.9L724.1,459.4L721.3,459.4Z"/><path d="M729.1,472.2L730.5,474.7L727.7,474.7Z"/><path d="M741.5,471.4L742.9,473.9L740.1,473.9Z"/><path d="M752.0,472.2L753.4,474.7L750.6,474.7Z"/><path d="M752.0,474.8L753.4,477.3L750.6,477.3Z"/><path d="M682.1,485.1L683.5,487.6L680.7,487.6Z"/><path d="M691.3,478.8L692.7,481.3L689.9,481.3Z"/><path d="M689.5,491.4L690.9,493.9L688.1,493.9Z"/><path d="M689.7,494.6L691.1,497.1L688.3,497.1Z"/><path d="M721.1,481.9L722.5,484.4L719.7,484.4Z"/><path d="M727.7,486.2L729.1,488.7L726.3,488.7Z"/><path d="M745.1,480.6L746.5,483.1L743.7,483.1Z"/><path d="M737.2,476.7L738.6,479.2L735.8,479.2Z"/><path d="M714.0,489.3L715.4,491.8L712.6,491.8Z"/><path d="M708.7,485.4L710.1,487.9L707.3,487.9Z"/><path d="M698.2,496.7L699.6,499.2L696.8,499.2Z"/><path d="M699.8,499.9L701.2,502.4L698.4,502.4Z"/><path d="M708.7,506.5L710.1,509.0L707.3,509.0Z"/><path d="M712.4,502.5L713.8,505.0L711.0,505.0Z"/><path d="M703.5,513.1L704.9,515.6L702.1,515.6Z"/><path d="M691.6,514.4L693.0,516.9L690.2,516.9Z"/><path d="M720.1,496.7L721.5,499.2L718.7,499.2Z"/><path d="M724.0,499.9L725.4,502.4L722.6,502.4Z"/><path d="M734.6,500.4L736.0,502.9L733.2,502.9Z"/><path d="M737.8,502.5L739.2,505.0L736.4,505.0Z"/><path d="M745.7,492.0L747.1,494.5L744.3,494.5Z"/><path d="M749.6,497.2L751.0,499.7L748.2,499.7Z"/><path d="M752.0,501.5L753.4,504.0L750.6,504.0Z"/><path d="M747.8,502.5L749.2,505.0L746.4,505.0Z"/><path d="M742.5,509.1L743.9,511.6L741.1,511.6Z"/><path d="M750.4,515.2L751.8,517.7L749.0,517.7Z"/><path d="M753.6,521.0L755.0,523.5L752.2,523.5Z"/><path d="M752.8,522.3L754.2,524.8L751.4,524.8Z"/><path d="M741.2,523.1L742.6,525.6L739.8,525.6Z"/><path d="M743.0,526.3L744.4,528.8L741.6,528.8Z"/><path d="M743.8,527.6L745.2,530.1L742.4,530.1Z"/><path d="M727.2,525.2L728.6,527.7L725.8,527.7Z"/><path d="M714.5,524.9L715.9,527.4L713.1,527.4Z"/><path d="M766.8,504.6L768.2,507.1L765.4,507.1Z"/><path d="M758.9,497.8L760.3,500.3L757.5,500.3Z"/><path d="M709.3,515.7L710.7,518.2L707.9,518.2Z"/><path d="M722.5,512.0L723.9,514.5L721.1,514.5Z"/><path d="M732.5,507.8L733.9,510.3L731.1,510.3Z"/><path d="M719.3,502.5L720.7,505.0L717.9,505.0Z"/></g>
<rect x="851.9" y="391" width="71.1" height="72.7" fill="#666d93"/>
<rect x="923" y="391" width="71.3" height="72.7" fill="#76385f"/>
<rect x="851.9" y="463.7" width="71.1" height="72.8" fill="#a8aac8"/>
<rect x="923" y="463.7" width="71.3" height="72.8" fill="#c9b1c7"/>
<path d="M851.9,391H994.3V536.5H851.9Z M923,391V536.5 M851.9,463.7H994.3" fill="none" stroke="#3a3a4a" stroke-width="0.8"/>
<text x="922.1" y="384.6" font-size="7" font-weight="normal" fill="#444" text-anchor="middle" textLength="36.2" lengthAdjust="spacingAndGlyphs">pCR rates</text>
<text x="887.6" y="425" font-size="7.6" font-weight="normal" fill="#2a2a2a" text-anchor="middle" textLength="44" lengthAdjust="spacingAndGlyphs">43% (10/23)</text>
<text x="887.6" y="434.9" font-size="7.6" font-weight="normal" fill="#2a2a2a" text-anchor="middle" textLength="52.9" lengthAdjust="spacingAndGlyphs">(CI 23%–66%)</text>
<text x="958.4" y="425" font-size="7.6" font-weight="normal" fill="#2a2a2a" text-anchor="middle" textLength="44" lengthAdjust="spacingAndGlyphs">82% (18/22)</text>
<text x="958.4" y="434.9" font-size="7.6" font-weight="normal" fill="#2a2a2a" text-anchor="middle" textLength="52.9" lengthAdjust="spacingAndGlyphs">(CI 60%–95%)</text>
<text x="887.6" y="497.8" font-size="7.6" font-weight="normal" fill="#2a2a2a" text-anchor="middle" textLength="44" lengthAdjust="spacingAndGlyphs">28% (13/47)</text>
<text x="887.6" y="507.7" font-size="7.6" font-weight="normal" fill="#2a2a2a" text-anchor="middle" textLength="52.9" lengthAdjust="spacingAndGlyphs">(CI 16%–43%)</text>
<text x="958.4" y="497.8" font-size="7.6" font-weight="normal" fill="#2a2a2a" text-anchor="middle" textLength="44" lengthAdjust="spacingAndGlyphs">52% (23/44)</text>
<text x="958.4" y="507.7" font-size="7.6" font-weight="normal" fill="#2a2a2a" text-anchor="middle" textLength="52.9" lengthAdjust="spacingAndGlyphs">(CI 37%–68%)</text>
<text transform="translate(819.6,463.8) rotate(-90)" font-size="7.6" font-weight="normal" fill="#333" text-anchor="middle" textLength="51" lengthAdjust="spacingAndGlyphs">TMB (mut/Mb)</text>
<text x="918.7" y="576" font-size="7.8" font-weight="normal" fill="#333" text-anchor="middle" textLength="48" lengthAdjust="spacingAndGlyphs">Immune GEP</text>
</svg>
<div id="hdr" class="abs"></div>
<div id="title" class="abs"><span style="font-size:33.5px;letter-spacing:2px">TMB</span><span style="margin-left:6.5px;margin-right:-1.5px">：</span>无法作为独立预测因子</div>
<div id="bullet" class="abs">乳腺癌总体突变负荷较低</div>
<div id="kn" class="abs">Keynote522</div>
<div id="efs" class="abs"></div>
<div id="efst" class="abs">EFS in TMB Subgroups</div>
<div id="gep" class="abs">GeparNeuvo</div>
<div id="red" class="abs"><span class="cq">“</span><span style="letter-spacing:0.1px;font-size:26.5px;position:relative;top:-0.5px">TMB+</span>免疫相关基因<span class="cq">”</span>具有预测作用</div>
<div id="cite" class="abs">K.R.M Blenman, et al. Clin Cancer Res. 2022; T.Karn, et al. Ann Oncol. 2020</div>
</body></html>
